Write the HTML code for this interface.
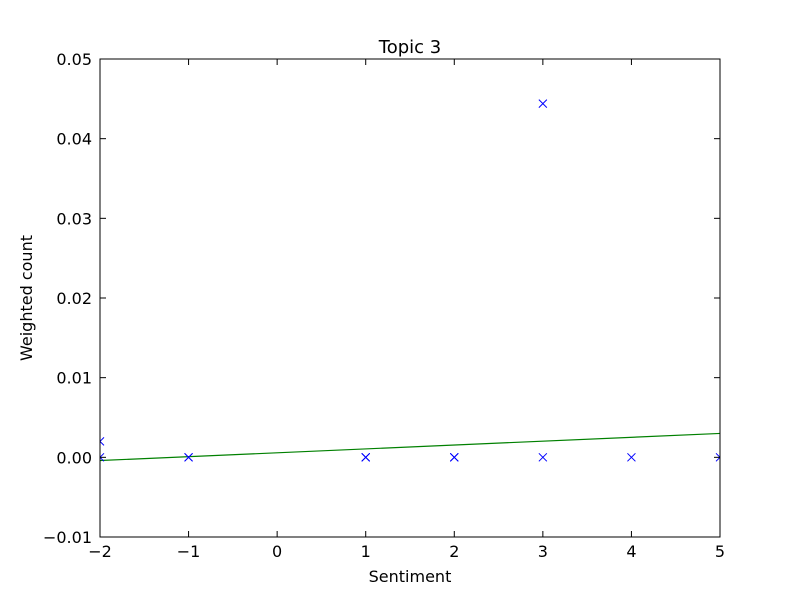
<!DOCTYPE html>
<html><head><meta charset="utf-8"><style>
body{margin:0;background:#fff;}
text{font-family:"DejaVu Sans","Liberation Sans",sans-serif;}
</style></head><body>
<svg id="chart" width="800" height="597">
<rect width="800" height="597" fill="#fff"/>
<defs><clipPath id="clip"><rect x="100" y="59" width="620" height="478"/></clipPath></defs>
<g id="marks" clip-path="url(#clip)"></g>
<rect x="100" y="59" width="620" height="478" fill="none" stroke="#000"/>
<g id="axes"></g>
<text x="410" y="53" text-anchor="middle" font-size="18">Topic 3</text>
<text x="410" y="582" text-anchor="middle" font-size="16">Sentiment</text>
<text x="32" y="298" text-anchor="middle" font-size="16" transform="rotate(-90 32 298)">Weighted count</text>
</svg>
<script>
const xTicks=[-2,-1,0,1,2,3,4,5];
const xTickLabels=["\u22122","\u22121","0","1","2","3","4","5"];
const yTicks=[-0.01,0,0.01,0.02,0.03,0.04,0.05];
const yTickLabels=["\u22120.01","0.00","0.01","0.02","0.03","0.04","0.05"];
const pointX=[-2,-2,-1,-1,1,1,1,2,2,2,3,3,4,5];
const pointY=[0.002,0,0,0,0,0,0,0,0,0,0.0444,0,0,0];
const fitX=[-2,5];
const fitY=[-0.0004,0.003];
const X0=100,X1=720,Y0=537,Y1=59;
const sx=v=>X0+(v+2)/7*(X1-X0);
const sy=v=>Y0-(v+0.01)/0.06*(Y0-Y1);
const NS="http://www.w3.org/2000/svg";
const axes=document.getElementById('axes'),marks=document.getElementById('marks');
function mk(t,a,p){const e=document.createElementNS(NS,t);for(const k in a)e.setAttribute(k,a[k]);p.appendChild(e);return e;}
xTicks.forEach((v,i)=>{const x=sx(v);
 const t1=mk('line',{x1:x,x2:x,y1:Y0,y2:Y0-6,stroke:'#000'},axes);
 
 
 const t2=mk('line',{x1:x,x2:x,y1:Y1,y2:Y1+6,stroke:'#000'},axes);
 
 
 const l=mk('text',{x:x,y:Y0+20,'text-anchor':'middle','font-size':16},axes);l.textContent=xTickLabels[i];
 
 
});
yTicks.forEach((v,i)=>{const y=sy(v);
 const t1=mk('line',{x1:X0,x2:X0+6,y1:y,y2:y,stroke:'#000'},axes);
 
 
 const t2=mk('line',{x1:X1,x2:X1-6,y1:y,y2:y,stroke:'#000'},axes);
 
 
 const l=mk('text',{x:X0-8,y:y+6,'text-anchor':'end','font-size':16},axes);l.textContent=yTickLabels[i];
 
 
});
const fl=mk('line',{x1:sx(fitX[0]),y1:sy(fitY[0]),x2:sx(fitX[1]),y2:sy(fitY[1]),stroke:'#008000','stroke-width':1.2},marks);


pointX.forEach((v,i)=>{const x=sx(v),y=sy(pointY[i]),r=4;
 const p=mk('path',{d:`M${x-r},${y-r}L${x+r},${y+r}M${x-r},${y+r}L${x+r},${y-r}`,stroke:'#0000ff','stroke-width':1},marks);
 
 
});
</script>
</body></html>
